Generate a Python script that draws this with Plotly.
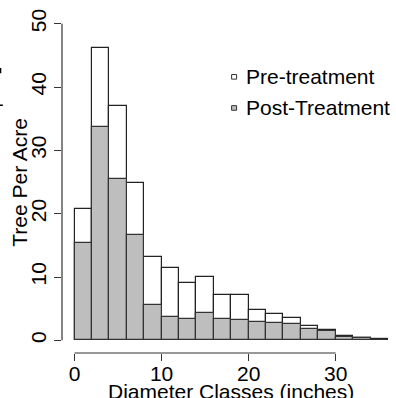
import plotly.graph_objects as go

# Data (bins are 2 inches wide, starting at 0)
bin_left = [0, 2, 4, 6, 8, 10, 12, 14, 16, 18, 20, 22, 24, 26, 28, 30, 32, 34]
pre_treatment = [20.7, 46.2, 37.0, 24.8, 13.2, 11.5, 9.05, 10.05, 7.2, 7.2, 4.8, 4.15, 3.5, 2.3, 1.7, 0.75, 0.4, 0.15]
post_treatment = [15.4, 33.7, 25.4, 16.7, 5.6, 3.7, 3.3, 4.3, 3.4, 3.15, 2.95, 2.8, 2.6, 1.8, 1.5, 0.5, 0.35, 0.0]
x_ticks = [0, 10, 20, 30]
y_ticks = [0, 10, 20, 30, 40, 50]

bin_width = 2
centers = [b + bin_width / 2 for b in bin_left]

FONT = "Liberation Sans, Arial, sans-serif"
FS = 21
EDGE = "#222222"
GRAY = "#bebebe"

fig = go.Figure()
fig.add_trace(go.Bar(x=centers, y=pre_treatment, width=bin_width, name="Pre-treatment",
                     marker=dict(color="white", line=dict(color=EDGE, width=1.2)),
                     showlegend=False))
fig.add_trace(go.Bar(x=centers, y=post_treatment, width=bin_width, name="Post-Treatment",
                     marker=dict(color=GRAY, line=dict(color="#333333", width=1.2)),
                     showlegend=False))

shapes = []
# partial axis lines (R style)
shapes.append(dict(type="line", xref="paper", yref="y", x0=0, x1=0, y0=min(y_ticks), y1=max(y_ticks),
                   line=dict(color="#333333", width=1.2)))
shapes.append(dict(type="line", xref="x", yref="paper", x0=min(x_ticks), x1=max(x_ticks), y0=0, y1=0,
                   line=dict(color="#333333", width=1.2)))
# stray marks at top-left edge
shapes.append(dict(type="line", xref="paper", yref="paper", x0=-0.184, x1=-0.184, y0=0.833, y1=0.818,
                   line=dict(color="black", width=1.5)))
shapes.append(dict(type="line", xref="paper", yref="paper", x0=-0.186, x1=-0.177, y0=0.7245, y1=0.7245,
                   line=dict(color="black", width=1.5)))

# legend (manual)
legend_items = [("Pre-treatment", "white", 0.8075), ("Post-Treatment", GRAY, 0.7165)]
annotations = []
for label, col, yp in legend_items:
    x0p = (231.7 - 62.2) / 333.8
    x1p = (236.7 - 62.2) / 333.8
    h = 4.6 / 341.9
    shapes.append(dict(type="rect", xref="paper", yref="paper", x0=x0p, x1=x1p, y0=yp - h / 2, y1=yp + h / 2,
                       fillcolor=col, line=dict(color="#333333", width=1)))
    annotations.append(dict(text=label, xref="paper", yref="paper", x=(244 - 62.2) / 333.8, y=yp,
                            xanchor="left", yanchor="middle", showarrow=False,
                            font=dict(family=FONT, size=FS, color="black")))

# axis titles
annotations.append(dict(text="Diameter Classes (inches)", xref="x", yref="paper", x=18.0,
                        y=-(391 - 352.7) / 341.9,
                        xanchor="center", yanchor="middle", showarrow=False,
                        font=dict(family=FONT, size=FS, color="black")))
annotations.append(dict(text="Tree Per Acre", xref="paper", yref="y", x=(19 - 62.2) / 333.8, y=25,
                        xanchor="center", yanchor="middle", textangle=-90, showarrow=False,
                        font=dict(family=FONT, size=FS, color="black")))

fig.update_layout(
    width=396, height=398,
    margin=dict(l=62, r=0, t=11, b=45, pad=0, autoexpand=False),
    barmode="overlay", bargap=0,
    plot_bgcolor="white", paper_bgcolor="white",
    shapes=shapes, annotations=annotations,
    font=dict(family=FONT, size=FS, color="black"),
)
fig.update_xaxes(range=[-1.44, 36.93], tickvals=x_ticks, ticks="outside", ticklen=7, tickcolor="#333333",
                 tickwidth=1.2, showgrid=False, zeroline=False, showline=False, automargin=False,
                 ticklabelstandoff=-5,
                 tickfont=dict(family=FONT, size=FS, color="black"))
fig.update_yaxes(range=[-2, 52], tickvals=y_ticks, ticks="outside", ticklen=7, tickcolor="#333333",
                 tickwidth=1.2, showgrid=False, zeroline=False, showline=False, tickangle=-90,
                 automargin=False,
                 tickfont=dict(family=FONT, size=FS, color="black"))

fig.write_html("out.html", config={"displayModeBar": False},
               post_script="document.body.style.margin='0';document.body.style.overflow='hidden';")
